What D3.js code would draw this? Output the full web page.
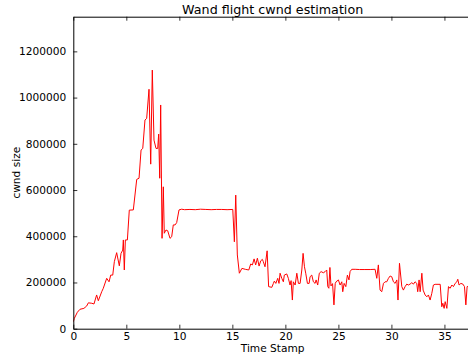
<!DOCTYPE html>
<html>
<head>
<meta charset="utf-8">
<script src="https://cdn.jsdelivr.net/npm/d3@7"></script>
<style>
  html, body { margin: 0; padding: 0; background: #fff; }
  svg { display: block; font-family: "DejaVu Sans", sans-serif; }
</style>
</head>
<body>
<svg id="chart" width="468" height="356"></svg>
<script>
// Congestion window estimates over the flight (time in seconds, cwnd in bytes)
const timeStamps = [
  0.0, 0.1, 0.38, 0.63, 1.0, 1.26, 1.42, 1.74, 1.95, 2.2, 2.36, 2.68, 2.83, 3.15, 3.37, 3.53, 3.72, 3.87,
  4.09, 4.34, 4.5, 4.66, 4.72, 4.81, 4.91, 5.1, 5.28, 5.66, 5.98, 6.2, 6.39, 6.55, 6.76, 6.92, 7.14, 7.3,
  7.45, 7.61, 7.8, 7.96, 8.05, 8.15, 8.24, 8.37, 8.49, 8.58, 8.74, 8.9, 9.12, 9.28, 9.43, 9.6, 9.75, 9.97,
  10.22, 10.5, 11.0, 11.5, 12.0, 12.5, 13.0, 13.5, 14.0, 14.5, 15.04, 15.19, 15.32, 15.47, 15.66, 15.9,
  16.22, 16.55, 16.73, 16.89, 17.05, 17.2, 17.36, 17.52, 17.68, 17.83, 17.92, 18.08, 18.28, 18.42, 18.72,
  18.87, 18.96, 19.1, 19.28, 19.4, 19.5, 19.66, 19.81, 19.9, 20.13, 20.28, 20.44, 20.54, 20.66, 20.75,
  20.92, 21.08, 21.23, 21.39, 21.55, 21.67, 21.8, 21.92, 22.08, 22.24, 22.33, 22.49, 22.64, 22.8, 22.9,
  23.05, 23.2, 23.37, 23.58, 23.75, 23.9, 24.0, 24.1, 24.2, 24.3, 24.45, 24.58, 24.7, 24.78, 25.0, 25.16,
  25.32, 25.41, 25.54, 25.7, 25.85, 26.0, 26.1, 26.26, 26.58, 27.0, 27.5, 28.0, 28.46, 28.62, 28.77,
  28.93, 29.09, 29.25, 29.4, 29.56, 29.72, 29.88, 30.03, 30.19, 30.35, 30.51, 30.62, 30.76, 30.98, 31.13,
  31.29, 31.45, 31.6, 31.76, 31.92, 32.08, 32.23, 32.39, 32.48, 32.61, 32.71, 32.87, 32.99, 33.18, 33.34,
  33.49, 33.65, 33.81, 33.96, 34.12, 34.6, 34.75, 34.85, 34.97, 35.07, 35.23, 35.38, 35.54, 35.7, 35.85,
  36.01, 36.17, 36.26, 36.38, 36.55, 36.74, 36.89, 37.02, 37.14, 37.3, 37.5
];
const cwndSizes = [
  30000, 45000, 71000, 84000, 88000, 98000, 112000, 110000, 107000, 146000, 121000, 160000, 175000, 218000, 203000, 232000, 232000, 290000,
  329000, 272000, 326000, 340000, 384000, 254000, 384000, 384000, 513000, 514000, 646000, 651000, 773000, 780000, 903000, 910000, 1036000, 712000,
  1119000, 816000, 780000, 780000, 842000, 651000, 968000, 391000, 614000, 413000, 427000, 424000, 391000, 398000, 449000, 449000, 459000, 514000,
  517000, 515000, 516000, 515000, 517000, 516000, 515000, 516000, 516000, 515000, 516000, 376000, 578000, 319000, 240000, 261000,
  257000, 254000, 280000, 276000, 302000, 276000, 305000, 271000, 294000, 300000, 290000, 268000, 337000, 182000, 179000,
  196000, 206000, 196000, 218000, 196000, 240000, 218000, 203000, 232000, 237000, 218000, 189000, 208000, 124000, 203000,
  189000, 240000, 196000, 196000, 254000, 326000, 268000, 240000, 196000, 196000, 225000, 232000, 203000, 196000, 211000,
  189000, 240000, 247000, 242000, 247000, 254000, 182000, 175000, 265000, 185000, 195000, 103000, 195000, 203000, 211000, 189000,
  203000, 160000, 196000, 182000, 232000, 211000, 247000, 257000, 257000, 256000, 256000, 256000, 257000, 218000, 276000,
  167000, 160000, 196000, 203000, 203000, 218000, 228000, 225000, 203000, 196000, 211000, 124000, 283000, 182000, 167000,
  182000, 193000, 189000, 193000, 199000, 193000, 203000, 196000, 160000, 211000, 160000, 240000, 167000, 146000, 138000,
  146000, 124000, 153000, 189000, 192000, 192000, 95000, 110000, 88000, 117000, 88000, 182000, 175000, 189000, 182000,
  196000, 203000, 214000, 189000, 196000, 193000, 182000, 103000, 182000, 185000, 190000
];
const xTicks = [0, 5, 10, 15, 20, 25, 30, 35];
const yTicks = [0, 200000, 400000, 600000, 800000, 1000000, 1200000];

const titleText = "Wand flight cwnd estimation";
const xLabel = "Time Stamp";
const yLabel = "cwnd size";

const svg = d3.select("#chart");
const plot = { left: 73.3, top: 16.7, right: 472, bottom: 328.7 };

const x = d3.scaleLinear().domain([0, 37.6]).range([plot.left, plot.right]);
const y = d3.scaleLinear().domain([0, 1350000]).range([plot.bottom, plot.top]);

const points = timeStamps.map((t, i) => [t, cwndSizes[i]]);

svg.append("defs").append("clipPath").attr("id", "plotClip")
  .append("rect")
  .attr("x", plot.left).attr("y", plot.top)
  .attr("width", plot.right - plot.left).attr("height", plot.bottom - plot.top);

// data line
svg.append("path")
  .datum(points)
  .attr("clip-path", "url(#plotClip)")
  .attr("fill", "none")
  .attr("stroke", "#ff0000")
  .attr("stroke-width", 1)
  .attr("stroke-linejoin", "miter")
  .attr("d", d3.line().x(d => x(d[0])).y(d => y(d[1])));

const fontSize = 10.6;
const tickLen = 4;

// axes: ticks point inward, matplotlib-style
const xAxisBottom = d3.axisBottom(x).tickValues(xTicks).tickFormat(d3.format("d"))
  .tickSizeInner(-tickLen).tickSizeOuter(0).tickPadding(6);
const gx = svg.append("g").attr("transform", `translate(0,${plot.bottom})`).call(xAxisBottom);

const xAxisTop = d3.axisTop(x).tickValues(xTicks).tickFormat("")
  .tickSizeInner(-tickLen).tickSizeOuter(0);
const gxt = svg.append("g").attr("transform", `translate(0,${plot.top})`).call(xAxisTop);

const yAxisLeft = d3.axisLeft(y).tickValues(yTicks).tickFormat(d3.format("d"))
  .tickSizeInner(-tickLen).tickSizeOuter(0).tickPadding(7);
const gy = svg.append("g").attr("transform", `translate(${plot.left},0)`).call(yAxisLeft);

[gx, gxt, gy].forEach(g => {
  g.select(".domain").attr("stroke", "#000").attr("stroke-width", 1);
  g.selectAll(".tick line").attr("stroke", "#000").attr("stroke-width", 0.8);
  g.selectAll(".tick text")
    .attr("fill", "#000")
    .style("font-family", "DejaVu Sans, sans-serif")
    .style("font-size", fontSize + "px");
});
gx.selectAll(".tick text").attr("dy", "0.71em").attr("y", 4);

// title
svg.append("text")
  .attr("x", (plot.left + plot.right) / 2)
  .attr("y", 13.5)
  .attr("text-anchor", "middle")
  .style("font-size", "12.7px")
  .attr("fill", "#000")
  .text(titleText);

// x label
svg.append("text")
  .attr("x", (plot.left + plot.right) / 2)
  .attr("y", 351.5)
  .attr("text-anchor", "middle")
  .style("font-size", fontSize + "px")
  .attr("fill", "#000")
  .text(xLabel);

// y label
svg.append("text")
  .attr("transform", `translate(20.2,${(plot.top + plot.bottom) / 2}) rotate(-90)`)
  .attr("text-anchor", "middle")
  .style("font-size", fontSize + "px")
  .attr("fill", "#000")
  .text(yLabel);
</script>
</body>
</html>
